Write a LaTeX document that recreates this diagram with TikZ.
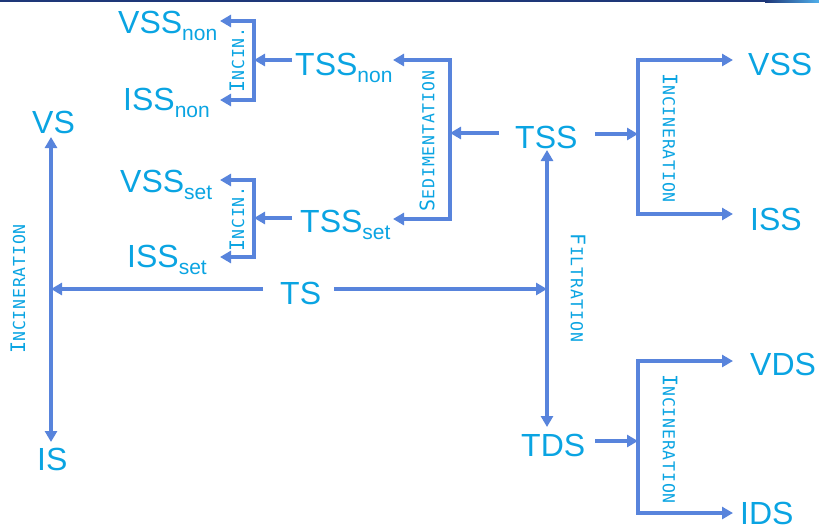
\documentclass[tikz,border=0pt]{standalone}
\usepackage{fontspec}
\setmainfont{Liberation Sans}
\newfontfamily\labfont[LetterSpace=5]{DejaVu Sans Mono}
\usetikzlibrary{arrows.meta}
\definecolor{txtc}{RGB}{10,164,226}
\definecolor{arrc}{RGB}{88,132,220}
\definecolor{navy}{RGB}{30,55,120}
\definecolor{lightb}{RGB}{80,175,235}
\newcommand\subx[1]{\raisebox{-7pt}{\fontsize{21}{21}\selectfont #1}}
\newcommand\labx[2]{{\labfont\fontsize{20}{20}\selectfont #1\fontsize{16.5}{17}\selectfont #2}}
\begin{document}
\begin{tikzpicture}[x=1pt,y=-1pt,
  txt/.style={font=\fontsize{32}{32}\selectfont, text=txtc, inner sep=0pt, anchor=base west},
  lab/.style={text=txtc, inner sep=0pt},
  arr/.style={draw=arrc, line width=4pt, -{Triangle[length=11pt,width=12pt]}},
  darr/.style={draw=arrc, line width=4pt, {Triangle[length=11pt,width=12pt]}-{Triangle[length=11pt,width=12pt]}},
  ln/.style={draw=arrc, line width=4pt}]
\useasboundingbox (0,0) rectangle (819,528);
\fill[navy] (0,0) rectangle (765,2);
\shade[left color=navy, right color=lightb] (765,0) rectangle (819,2);

% text nodes
\node[txt] (VSSnon) at (118,33) {VSS\subx{non}};
\node[txt] (ISSnon) at (123,110) {ISS\subx{non}};
\node[txt] (TSSnon) at (295,75) {TSS\subx{non}};
\node[txt] (VSSset) at (120,192) {VSS\subx{set}};
\node[txt] (ISSset) at (127,267) {ISS\subx{set}};
\node[txt] (TSSset) at (300,232) {TSS\subx{set}};
\node[txt] (TSS) at (515,148) {TSS};
\node[txt] (VSS) at (748,75) {VSS};
\node[txt] (ISS) at (750,230) {ISS};
\node[txt] (TS) at (280,304) {TS};
\node[txt] (VS) at (32,133) {VS};
\node[txt] (IS) at (37,470) {IS};
\node[txt] (TDS) at (521,456) {TDS};
\node[txt] (VDS) at (750,375) {VDS};
\node[txt] (IDS) at (740,524) {IDS};

% labels
\node[lab, rotate=90] (incA) at (237,60) {\labx{I}{NCIN.}};
\node[lab, rotate=90] (incB) at (237,219) {\labx{I}{NCIN.}};
\node[lab, rotate=90] (sed) at (427,141) {\labx{S}{EDIMENTATION}};
\node[lab, rotate=-90] (incC) at (670,138) {\labx{I}{NCINERATION}};
\node[lab, rotate=-90] (incD) at (670,439) {\labx{I}{NCINERATION}};
\node[lab, rotate=90] (incE) at (18,289) {\labx{I}{NCINERATION}};
\node[lab, rotate=-90] (filt) at (578,288) {\labx{F}{ILTRATION}};

% coordinates
\coordinate (a1) at (254,21);  \coordinate (a2) at (254,100); \coordinate (am) at (254,60);
\coordinate (ta1) at (220,21); \coordinate (ta2) at (220,100); \coordinate (sa) at (292,60);
\coordinate (b1) at (254,180); \coordinate (b2) at (254,257); \coordinate (bm) at (254,218);
\coordinate (tb1) at (220,180); \coordinate (tb2) at (220,257); \coordinate (sb) at (292,218);
\coordinate (s1) at (450,60);  \coordinate (s2) at (450,219); \coordinate (sm) at (450,133);
\coordinate (ts1) at (393,60); \coordinate (ts2) at (393,219); \coordinate (ss) at (499,133);
\coordinate (c1) at (638,60);  \coordinate (c2) at (638,214); \coordinate (cm) at (638,134);
\coordinate (tc1) at (733,60); \coordinate (tc2) at (733,214); \coordinate (sc) at (595,134);
\coordinate (d1) at (638,361); \coordinate (d2) at (638,513); \coordinate (dm) at (638,441);
\coordinate (td1) at (733,361); \coordinate (td2) at (733,513); \coordinate (sd) at (595,441);
\coordinate (fu) at (547,150); \coordinate (fd) at (547,427); \coordinate (fm) at (547,289);
\coordinate (tsl) at (263,289); \coordinate (tsr) at (334,289);
\coordinate (vu) at (51,137); \coordinate (vd) at (51,442); \coordinate (vm) at (51,289);

% connectors
\draw[darr] (ta1) -- (a1) -- (a2) -- (ta2);
\draw[arr] (sa) -- (am);
\draw[darr] (tb1) -- (b1) -- (b2) -- (tb2);
\draw[arr] (sb) -- (bm);
\draw[darr] (ts1) -- (s1) -- (s2) -- (ts2);
\draw[arr] (ss) -- (sm);
\draw[darr] (tc1) -- (c1) -- (c2) -- (tc2);
\draw[arr] (sc) -- (cm);
\draw[darr] (td1) -- (d1) -- (d2) -- (td2);
\draw[arr] (sd) -- (dm);
\draw[darr] (fu) -- (fd);
\draw[arr] (tsr) -- (fm);
\draw[arr] (tsl) -- (vm);
\draw[darr] (vu) -- (vd);
\end{tikzpicture}
\end{document}
